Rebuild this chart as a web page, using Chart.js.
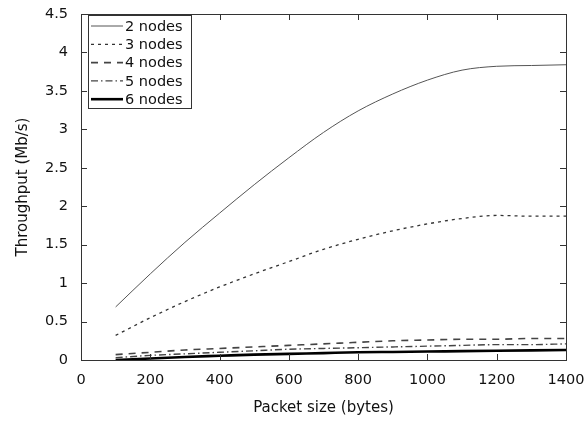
<!DOCTYPE html>
<html>
<head>
<meta charset="utf-8">
<script src="https://cdn.jsdelivr.net/npm/chart.js@4"></script>
<style>
html,body{margin:0;padding:0;background:#fff;}
#wrap{width:587px;height:421px;position:relative;}
</style>
</head>
<body>
<div id="wrap"><canvas id="grafico" width="587" height="421"></canvas></div>
<script>
// packet sizes (bytes)
const tamanhos = [100,200,300,400,500,600,700,800,900,1000,1100,1200,1300,1400];

const nos2 = [0.69,1.12,1.53,1.91,2.28,2.63,2.96,3.24,3.46,3.64,3.77,3.82,3.83,3.84];
const nos3 = [0.32,0.55,0.76,0.95,1.12,1.28,1.44,1.57,1.68,1.77,1.84,1.88,1.87,1.87];
const nos4 = [0.07,0.10,0.13,0.15,0.17,0.19,0.21,0.23,0.25,0.26,0.27,0.27,0.28,0.28];
const nos5 = [0.03,0.06,0.08,0.10,0.12,0.14,0.15,0.16,0.17,0.18,0.19,0.20,0.20,0.21];
const nos6 = [0.00,0.02,0.04,0.055,0.07,0.08,0.09,0.10,0.105,0.11,0.115,0.12,0.125,0.13];

const legendas = ['2 nodes','3 nodes','4 nodes','5 nodes','6 nodes'];
const xTicks = [0,200,400,600,800,1000,1200,1400];
const yTicks = [0,0.5,1,1.5,2,2.5,3,3.5,4,4.5];

const fonte = "'DejaVu Sans', sans-serif";

function pontos(valores){
return tamanhos.map((x,i) => ({x:x, y:valores[i]}));
}

// inward ticks + closed frame + boxed legend
const moldura = {
id:'moldura',
afterDraw(chart){
const ctx = chart.ctx;
const a = chart.chartArea;
const sx = chart.scales.x;
const sy = chart.scales.y;
ctx.save();
ctx.strokeStyle = '#333';
ctx.lineWidth = 1;
ctx.strokeRect(Math.round(a.left)+0.5, Math.round(a.top)+0.5, Math.round(a.right-a.left), Math.round(a.bottom-a.top));
ctx.beginPath();
xTicks.forEach(v => {
const px = Math.round(sx.getPixelForValue(v))+0.5;
ctx.moveTo(px,a.bottom); ctx.lineTo(px,a.bottom-6);
ctx.moveTo(px,a.top); ctx.lineTo(px,a.top+6);
});
yTicks.forEach(v => {
const py = Math.round(sy.getPixelForValue(v))+0.5;
ctx.moveTo(a.left,py); ctx.lineTo(a.left+6,py);
ctx.moveTo(a.right,py); ctx.lineTo(a.right-6,py);
});
ctx.stroke();

// legend
const lx = a.left+7, ly = a.top+1, lw = 103, lh = 93;
ctx.fillStyle = '#fff';
ctx.fillRect(lx,ly,lw,lh);
ctx.strokeStyle = '#333';
ctx.lineWidth = 1;
ctx.strokeRect(lx+0.5,ly+0.5,lw,lh);
ctx.font = '14.5px ' + fonte;
ctx.textBaseline = 'middle';
ctx.textAlign = 'left';
chart.data.datasets.forEach((ds,i) => {
const y = ly + 11 + i*18.3;
ctx.beginPath();
ctx.setLineDash(ds.borderDash || []);
ctx.strokeStyle = ds.borderColor;
ctx.lineWidth = ds.borderWidth;
ctx.moveTo(lx+3,y); ctx.lineTo(lx+35,y);
ctx.stroke();
ctx.setLineDash([]);
ctx.fillStyle = '#111';
ctx.fillText(ds.label, lx+37, y+1);
});
ctx.restore();
}
};

const ctx = document.getElementById('grafico');

new Chart(ctx,{
type:'line',
data:{
datasets:[
{label:legendas[0], data:pontos(nos2), borderColor:'#555', borderWidth:1},
{label:legendas[1], data:pontos(nos3), borderColor:'#333', borderWidth:1.3, borderDash:[3,4]},
{label:legendas[2], data:pontos(nos4), borderColor:'#444', borderWidth:1.6, borderDash:[7,6]},
{label:legendas[3], data:pontos(nos5), borderColor:'#444', borderWidth:1.4, borderDash:[7,3,1.5,3]},
{label:legendas[4], data:pontos(nos6), borderColor:'#000', borderWidth:2.6}
]
},
plugins:[moldura],
options:{
responsive:false,
animation:false,
layout:{padding:{top:14,right:21,left:0,bottom:0}},
elements:{
point:{radius:0},
line:{cubicInterpolationMode:'monotone', fill:false}
},
plugins:{
legend:{display:false},
tooltip:{enabled:false}
},
scales:{
x:{
type:'linear',
min:0, max:1400,
afterBuildTicks(s){ s.ticks = xTicks.map(v => ({value:v})); },
afterFit(s){ s.height = 61; s.paddingLeft = 0; s.paddingRight = 0; },
grid:{display:false, drawTicks:false},
border:{display:false},
ticks:{padding:12, color:'#111', font:{family:fonte, size:14.5}, maxRotation:0, callback:v => String(v)},
title:{display:true, text:'Packet size (bytes)', color:'#111', font:{family:fonte, size:15}, padding:{top:7}}
},
y:{
type:'linear',
min:0, max:4.5,
afterBuildTicks(s){ s.ticks = yTicks.map(v => ({value:v})); },
afterFit(s){ s.width = 81; s.paddingTop = 0; s.paddingBottom = 0; },
grid:{display:false, drawTicks:false},
border:{display:false},
ticks:{padding:13, color:'#111', font:{family:fonte, size:14.5}, callback:v => String(v)},
title:{display:true, text:'Throughput (Mb/s)', color:'#111', font:{family:fonte, size:15}, padding:{top:14, bottom:4}}
}
}
}
});
</script>
</body>
</html>
